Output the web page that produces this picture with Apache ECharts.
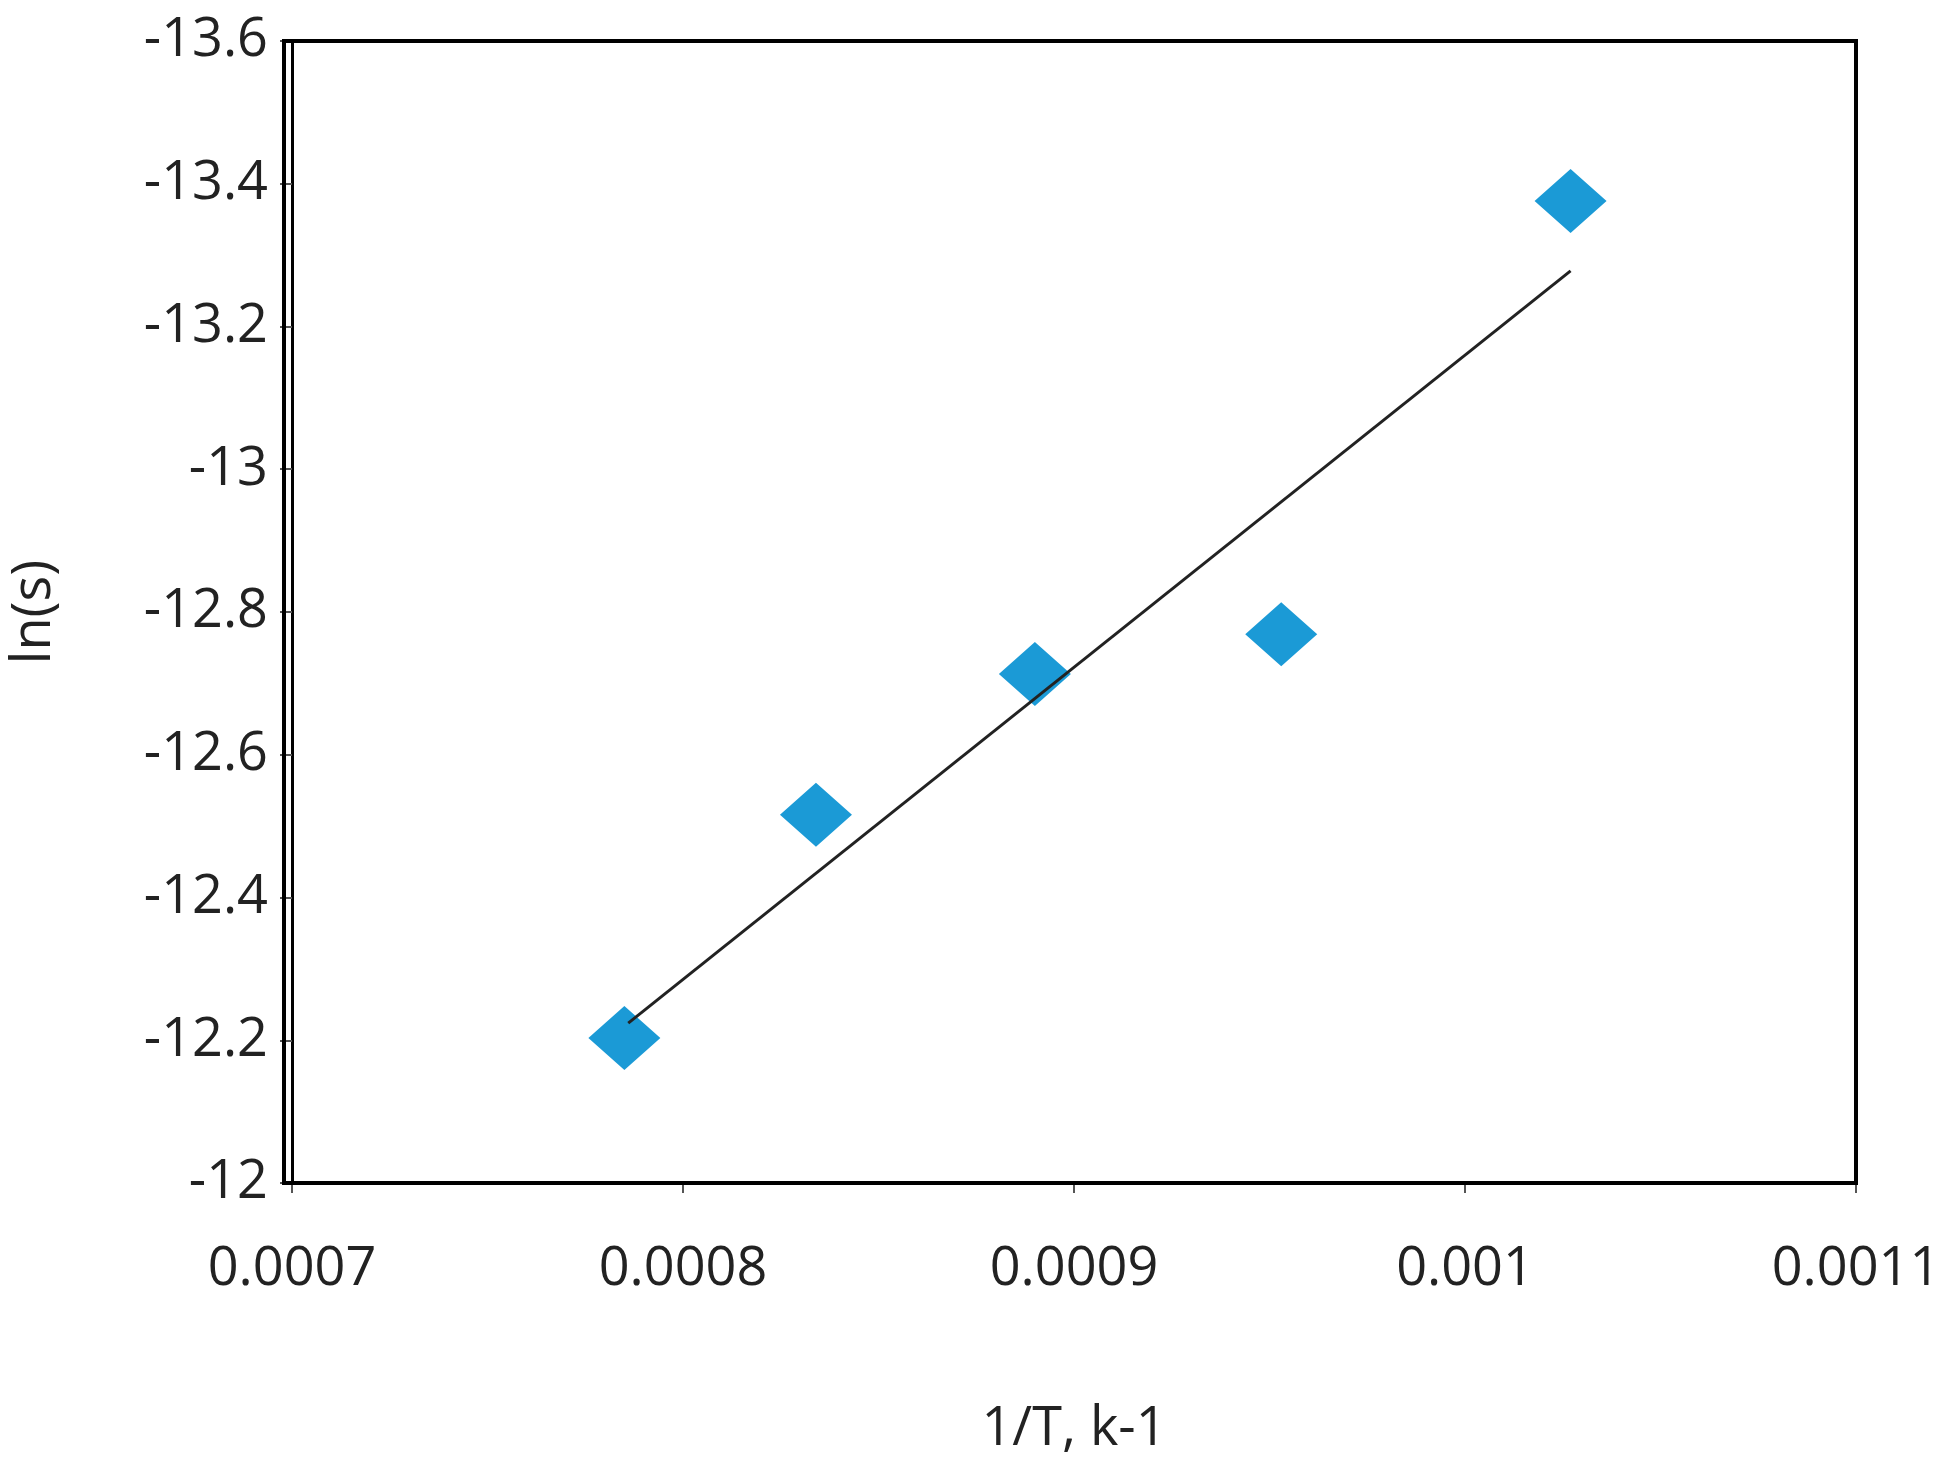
<!DOCTYPE html>
<html>
<head>
<meta charset="UTF-8">
<script src="https://cdn.jsdelivr.net/npm/echarts@6/dist/echarts.min.js"></script>
<style>body{margin:0;background:#fff}</style>
</head>
<body>
<div id="chart" style="width:1956px;height:1483px;"></div>
<script>
// measured points
var xs = [0.000785, 0.000834, 0.000890, 0.000953, 0.001027];
var ys = [-12.203, -12.516, -12.713, -12.769, -13.376];
// linear trend line ends
var trendX = [0.000786, 0.001027];
var trendY = [-12.224, -13.278];

var pts = xs.map(function(x, i){ return [x, ys[i]]; });
var trend = trendX.map(function(x, i){ return [x, trendY[i]]; });

var chart = echarts.init(document.getElementById('chart'));
chart.setOption({
	animation:false,
	grid:{left:284, right:100, top:41, bottom:300},
	xAxis:{
		type:'value', min:0.0007, max:0.0011, interval:0.0001,
		name:'1/T, k-1', nameLocation:'middle', nameGap:220,
		nameTextStyle:{fontSize:54, color:'#222', fontFamily:'Open Sans'},
		axisLine:{onZero:false, lineStyle:{color:'#000', width:3}},
		axisTick:{show:true, length:10, lineStyle:{color:'#555', width:2}},
		axisLabel:{fontSize:54, color:'#222', margin:60, fontFamily:'Open Sans',
			formatter:function(v){ return +v.toFixed(4) + ''; }},
		splitLine:{show:false}
	},
	yAxis:{
		type:'value', inverse:true, min:-13.6, max:-12, interval:0.2,
		name:'ln(s)', nameLocation:'middle', nameGap:230,
		nameTextStyle:{fontSize:54, color:'#222', fontFamily:'Open Sans'},
		axisLine:{lineStyle:{color:'#000', width:3}},
		axisTick:{show:true, length:12, lineStyle:{color:'#555', width:2}},
		axisLabel:{fontSize:54, color:'#222', margin:24, fontFamily:'Open Sans',
			formatter:function(v){ return +v.toFixed(1) + ''; }},
		splitLine:{show:false}
	},
	series:[
		{type:'line', data:trend, symbol:'none', lineStyle:{color:'#222', width:3}, z:3},
		{type:'scatter', data:pts, symbol:'diamond', symbolSize:[72,64],
			itemStyle:{color:'#1b9ad6', opacity:1}, z:2}
	],
	graphic:[{type:'rect', shape:{x:284, y:41, width:1572, height:1142},
		style:{fill:null, stroke:'#000', lineWidth:4}, z:10}]
});
</script>
</body>
</html>
